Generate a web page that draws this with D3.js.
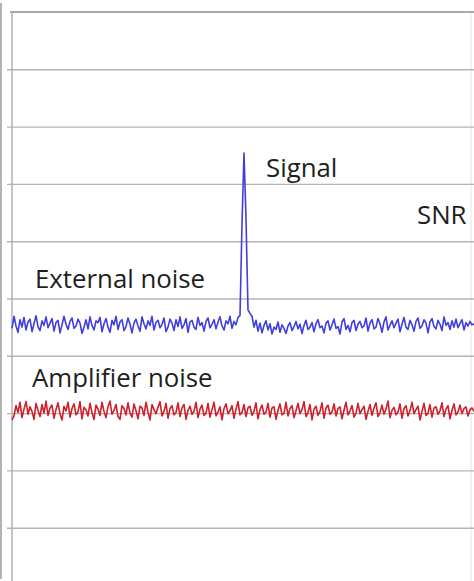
<!DOCTYPE html>
<html><head><meta charset="utf-8">
<script src="https://cdn.jsdelivr.net/npm/d3@7"></script>
<style>html,body{margin:0;padding:0;background:#fff;}svg{display:block;}</style>
</head><body>
<script>
// Signal level (arbitrary units, 10 units per gridline)
const gridValues = [10, 20, 30, 40, 50, 60, 70, 80, 90];
const externalNoise = [
44.8,46.9,45.2,44.1,46.3,45.0,46.7,44.5,45.9,46.4,44.2,45.6,47.0,45.1,44.4,46.1,45.3,46.8,44.9,45.7,
46.5,44.3,45.8,46.2,44.0,45.4,46.9,45.5,44.6,46.0,46.6,44.8,45.2,46.4,45.7,43.9,45.0,46.3,44.7,46.8,
45.3,44.5,46.1,45.8,46.7,44.2,45.6,46.5,45.0,44.1,46.2,45.4,46.9,44.6,45.9,46.3,44.4,45.1,46.6,45.5,
44.0,45.7,46.4,45.2,44.3,46.8,45.6,44.7,46.1,45.3,46.9,44.5,45.8,46.2,44.9,45.5,46.6,44.2,45.0,46.4,
45.7,44.4,46.3,45.1,46.8,44.8,45.4,46.5,44.1,45.9,46.2,45.0,44.6,46.7,45.3,45.8,44.3,46.0,46.6,44.9,
45.5,46.3,44.7,45.9,46.8,45.2,44.5,46.1,45.6,46.9,44.8,46.0,45.4,46.7,
47.0,63.0,75.4,64.0,48.0,47.4,
46.9,45.0,46.2,44.3,45.7,44.0,45.3,46.1,44.5,45.6,43.8,45.0,44.6,45.9,44.1,45.4,44.8,43.9,45.2,45.8,
44.4,45.1,46.0,44.7,45.5,43.9,45.3,46.2,44.6,45.0,45.8,44.2,45.6,46.3,44.9,45.2,44.0,45.7,46.1,44.5,
45.4,46.4,44.8,45.1,43.8,45.9,46.5,44.6,45.3,44.2,45.8,46.2,44.4,45.5,46.0,44.9,45.2,46.6,44.3,45.7,
46.3,44.7,45.0,46.5,45.6,44.1,45.9,46.8,44.5,45.3,46.1,44.9,45.7,46.4,44.2,45.5,46.7,45.0,44.6,46.2,
45.4,44.3,46.0,46.6,44.8,45.2,46.3,45.7,44.0,45.9,46.5,45.1,44.7,46.2,45.5,44.4,46.8,45.3,45.8,44.6,
46.1,45.0,46.4,44.9,45.6,46.3,44.5,45.8,45.2,46.0,45.4,45.6
];
const amplifierNoise = [
28.8,29.5,31.3,30.1,31.9,29.2,30.7,32.0,29.8,31.1,30.3,28.9,31.7,30.5,29.4,31.5,30.0,32.1,29.6,30.9,
31.4,29.1,30.6,31.8,29.9,28.8,31.2,30.4,31.9,29.3,30.8,31.6,29.7,30.2,32.0,29.0,31.0,30.6,29.5,31.7,
30.1,28.9,31.4,30.7,29.6,31.9,30.3,29.2,31.1,32.1,29.8,30.5,31.5,29.4,28.9,31.3,30.8,29.7,31.8,30.0,
29.3,31.6,30.4,29.0,31.2,30.9,29.6,31.9,30.2,28.8,31.5,30.6,29.9,31.0,32.0,29.5,30.3,31.7,29.1,30.8,
31.3,29.7,30.1,31.8,29.4,30.9,31.5,28.9,30.5,31.2,29.8,30.3,31.9,29.2,30.7,31.4,29.6,30.0,31.7,29.3,
30.6,31.9,29.5,30.2,31.1,28.8,30.8,31.6,29.9,30.4,31.3,29.1,30.7,32.0,29.7,30.1,31.5,29.4,30.9,31.2,
29.6,30.3,31.8,29.0,30.6,31.4,29.8,30.2,31.7,29.3,30.9,31.1,28.9,30.5,31.6,29.7,30.0,31.9,29.5,30.8,
31.3,29.2,30.4,31.7,29.9,30.6,32.0,29.4,30.1,31.5,28.8,30.7,31.2,29.6,30.3,31.8,29.1,30.9,31.4,29.8,
30.2,31.6,29.5,30.8,31.1,29.0,30.5,31.9,29.7,30.4,31.3,29.3,30.0,31.7,29.9,30.6,31.2,28.9,30.3,31.5,
29.6,30.9,31.8,29.4,30.1,31.4,29.8,30.7,32.1,29.2,30.5,31.0,29.7,30.2,31.6,29.1,30.8,31.3,29.5,30.4,
31.9,29.9,30.6,31.2,28.8,30.3,31.7,29.6,30.0,31.5,29.3,30.9,31.1,29.8,30.4,31.8,29.4,30.7,31.3,29.0,
30.5,31.6,29.7,30.2,31.4,29.9,30.8,31.1,29.5,30.6,30.9,30.3
];
const labels = ["Signal", "SNR", "External noise", "Amplifier noise"];

const W = 474, H = 581;
const svg = d3.select("body").append("svg").attr("width", W).attr("height", H);

const x = d3.scaleLinear().domain([0, externalNoise.length - 1]).range([12, 474]);
const xr = d3.scaleLinear().domain([0, amplifierNoise.length - 1]).range([12, 474]);
const y = d3.scaleLinear().domain([0, 100]).range([585, 12]);

// outer frame line at far left
svg.append("line").attr("x1", 1).attr("x2", 1).attr("y1", 3).attr("y2", 579)
  .attr("stroke", "#9a9a9a").attr("stroke-width", 1.5);

// right faint border
svg.append("line").attr("x1", 471).attr("x2", 471).attr("y1", 12).attr("y2", 585)
  .attr("stroke", "#e4e4e4").attr("stroke-width", 1);

// gridlines via axis
const gAxis = svg.append("g").attr("transform", "translate(12,0)")
  .call(d3.axisLeft(y).tickValues(gridValues).tickSize(-(W - 12)).tickFormat(""));
gAxis.select(".domain").remove();
gAxis.selectAll(".tick line").attr("x1", -5).attr("stroke", "#b4b4b4").attr("stroke-width", 1.4);

// top border
svg.append("line").attr("x1", 10).attr("x2", W).attr("y1", y(100)).attr("y2", y(100))
  .attr("stroke", "#8c8c8c").attr("stroke-width", 1.6);
// vertical axis
svg.append("line").attr("x1", 12).attr("x2", 12).attr("y1", y(100)).attr("y2", 585)
  .attr("stroke", "#ababab").attr("stroke-width", 1.4);

svg.append("path").datum(amplifierNoise)
  .attr("d", d3.line().x((d, i) => xr(i)).y(d => y(d)))
  .attr("fill", "none").attr("stroke", "#cf1f2b").attr("stroke-width", 1.6).attr("stroke-linejoin", "round");
svg.append("path").datum(externalNoise)
  .attr("d", d3.line().x((d, i) => x(i)).y(d => y(d)))
  .attr("fill", "none").attr("stroke", "#3f3fe0").attr("stroke-width", 1.6).attr("stroke-linejoin", "round");

const txt = [
  {t: labels[0], x: 266, y: 177},
  {t: labels[1], x: 417, y: 224},
  {t: labels[2], x: 35, y: 288},
  {t: labels[3], x: 32, y: 387}
];
svg.selectAll("text.lbl").data(txt).enter().append("text").attr("class", "lbl")
  .attr("x", d => d.x).attr("y", d => d.y).text(d => d.t)
  .attr("font-family", "'Open Sans', sans-serif").attr("font-size", 25.8)
  .attr("fill", "#1e1e1e");
</script>
</body></html>
